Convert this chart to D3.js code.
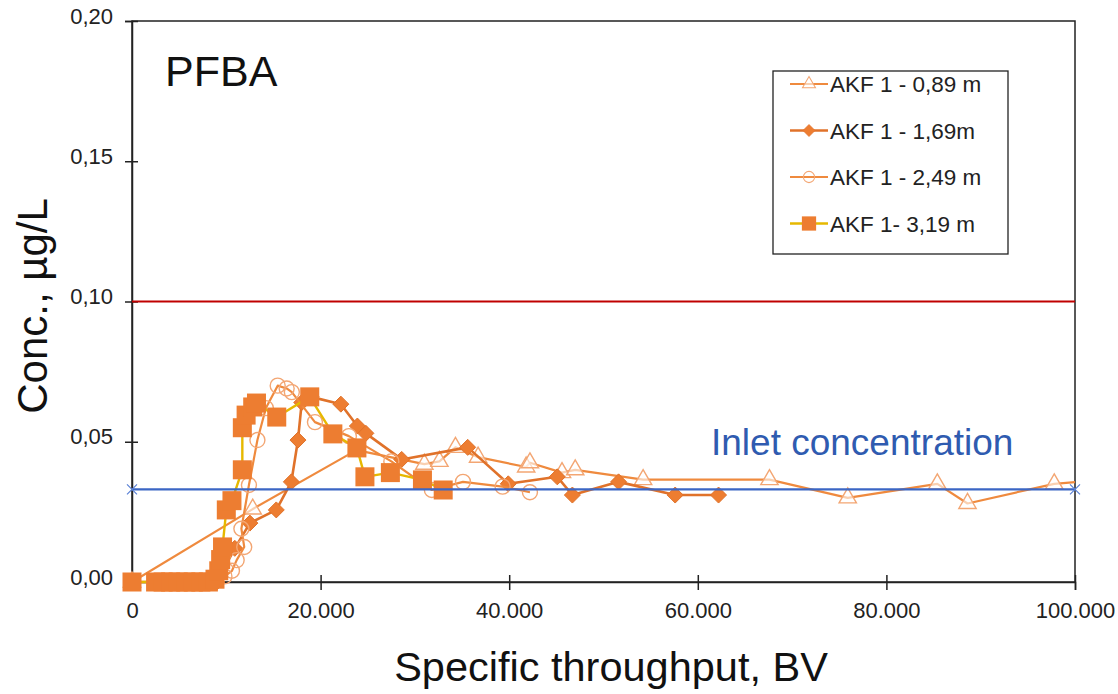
<!DOCTYPE html>
<html>
<head>
<meta charset="utf-8">
<script src="https://cdn.jsdelivr.net/npm/d3@7"></script>
<style>
    body { margin: 0; background: #fff; }
    text { font-family: "Liberation Sans", Arial, sans-serif; }
</style>
</head>
<body>
<div id="chart"></div>
<script>
// series values: [BV, conc µg/L]
const akf089 = [
    [0, 0], [12800, 0.026], [23800, 0.047], [31000, 0.042], [32600, 0.043],
    [34300, 0.048], [36700, 0.0445], [41800, 0.041], [42200, 0.0425],
    [45600, 0.039], [47000, 0.040], [54200, 0.0365], [67600, 0.0365],
    [75900, 0.030], [85400, 0.035], [88600, 0.028], [97800, 0.035], [101500, 0.036]
];
const akf169 = [
    [0, 0], [3000, 0], [6000, 0], [9000, 0], [10900, 0.012], [12500, 0.021],
    [15300, 0.0257], [16900, 0.0357], [17600, 0.0506], [18000, 0.064],
    [19000, 0.066], [22150, 0.0634], [23900, 0.0556], [24800, 0.053],
    [28600, 0.0437], [35600, 0.048], [39900, 0.035], [45100, 0.0375],
    [46700, 0.031], [51600, 0.0357], [57600, 0.031], [62200, 0.031]
];
const akf249 = [
    [0, 0], [4000, 0], [8000, 0], [9800, 0.002], [10600, 0.004], [11100, 0.0078],
    [11900, 0.0125], [11600, 0.019], [12400, 0.0346], [13300, 0.0506],
    [14200, 0.062], [15450, 0.070], [16400, 0.069], [16950, 0.0677],
    [19400, 0.057], [23000, 0.052], [27500, 0.043], [31800, 0.0328],
    [35100, 0.0357], [39300, 0.034], [42200, 0.032]
];
const akf319 = [
    [0, 0], [2500, 0], [3300, 0], [4100, 0], [4900, 0], [5700, 0], [6500, 0],
    [7300, 0], [8100, 0], [8800, 0.001], [9200, 0.004], [9400, 0.008],
    [9600, 0.0125], [10000, 0.0257], [10600, 0.029], [11700, 0.040],
    [11700, 0.055], [12100, 0.0595], [12800, 0.0624], [13200, 0.0638],
    [15350, 0.0588], [18850, 0.066], [21300, 0.0528], [23850, 0.0478],
    [24700, 0.0375], [27400, 0.039], [30800, 0.0364], [33000, 0.0328]
];
const inletConc = 0.033;
const limitConc = 0.10;
const xTicks = [0, 20000, 40000, 60000, 80000, 100000];
const yTicks = [0, 0.05, 0.10, 0.15, 0.20];
const legendLabels = ["AKF 1 - 0,89 m", "AKF 1 - 1,69m", "AKF 1 - 2,49 m", "AKF 1- 3,19 m"];

const width = 1118, height = 694;
const margin = { top: 21, right: 43, bottom: 112, left: 132 };
const innerW = width - margin.left - margin.right;
const innerH = height - margin.top - margin.bottom;

const svg = d3.select("#chart").append("svg")
    .attr("width", width)
    .attr("height", height);

const g = svg.append("g")
    .attr("transform", `translate(${margin.left}, ${margin.top})`);

const x = d3.scaleLinear().domain([0, 100000]).range([0, innerW]);
const y = d3.scaleLinear().domain([0, 0.20]).range([innerH, 0]);

g.append("clipPath").attr("id", "plotclip")
    .append("rect").attr("x", -12).attr("y", -2).attr("width", innerW + 12).attr("height", innerH + 14);

// frame
g.append("rect")
    .attr("width", innerW).attr("height", innerH)
    .attr("fill", "none").attr("stroke", "#222").attr("stroke-width", 1.5);

const fmtX = (d) => d === 0 ? "0" : d3.format(",")(d).replace(/,/g, ".");
const fmtY = (d) => d3.format(".2f")(d).replace(".", ",");

const xAxis = g.append("g")
    .attr("transform", `translate(0, ${innerH})`)
    .call(d3.axisBottom(x).tickValues(xTicks).tickFormat(fmtX).tickSize(8).tickPadding(12));
xAxis.selectAll(".tick line").attr("y1", -7).attr("stroke", "#222").attr("stroke-width", 1.5);

const yAxis = g.append("g")
    .call(d3.axisLeft(y).tickValues(yTicks).tickFormat(fmtY).tickSize(7).tickPadding(12));
yAxis.selectAll(".tick line").attr("x1", -7).attr("x2", 6).attr("stroke", "#222").attr("stroke-width", 1.5);

[xAxis, yAxis].forEach((a) => {
    a.attr("font-size", null);
    a.select(".domain").attr("stroke", "#222").attr("stroke-width", 1.5);
    a.selectAll(".tick text").attr("font-size", 22).attr("fill", "#222");
});
yAxis.selectAll(".tick text").attr("dy", "0.1em");

// limit line
g.append("line")
    .attr("x1", 0).attr("x2", innerW)
    .attr("y1", y(limitConc)).attr("y2", y(limitConc))
    .attr("stroke", "#c00000").attr("stroke-width", 2);

const line = d3.line().x((d) => x(d[0])).y((d) => y(d[1]));
const plot = g.append("g").attr("clip-path", "url(#plotclip)");

const series = [
    { data: akf089, line: "#ef8a3e", width: 2.2, marker: "triangle" },
    { data: akf169, line: "#e0722a", width: 2.6, marker: "diamond" },
    { data: akf249, line: "#ef8a3e", width: 2.2, marker: "circle" },
    { data: akf319, line: "#e6b800", width: 2.4, marker: "square" }
];

function drawMarker(sel, type) {
    if (type === "triangle") {
        sel.append("path").attr("d", d3.symbol(d3.symbolTriangle, 130)())
            .attr("fill", "#fff").attr("fill-opacity", 0.6)
            .attr("stroke", "#f3a673").attr("stroke-width", 1.4);
    } else if (type === "diamond") {
        sel.append("path").attr("d", "M0,-8L8,0L0,8L-8,0Z")
            .attr("fill", "#ed7d31").attr("stroke", "#e0722a").attr("stroke-width", 1);
    } else if (type === "circle") {
        sel.append("circle").attr("r", 7.5)
            .attr("fill", "none")
            .attr("stroke", "#f3a673").attr("stroke-width", 1.4);
    } else {
        sel.append("rect").attr("x", -9.5).attr("y", -9.5).attr("width", 19).attr("height", 19)
            .attr("fill", "#ed7d31");
    }
}

series.forEach((s) => {
    plot.append("path").datum(s.data)
        .attr("d", line)
        .attr("fill", "none")
        .attr("stroke", s.line)
        .attr("stroke-width", s.width)
        .attr("stroke-linejoin", "round");
    plot.selectAll(null).data(s.data).join("g")
        .attr("transform", (d) => `translate(${x(d[0])}, ${y(d[1])})`)
        .each(function () { drawMarker(d3.select(this), s.marker); });
});

// inlet line
g.append("line")
    .attr("x1", 0).attr("x2", innerW)
    .attr("y1", y(inletConc)).attr("y2", y(inletConc))
    .attr("stroke", "#3b66c4").attr("stroke-width", 2.2);
g.selectAll(".inletMark").data([0, 100000]).join("path")
    .attr("class", "inletMark")
    .attr("transform", (d) => `translate(${x(d)}, ${y(inletConc)})`)
    .attr("d", "M-5,-5L5,5M-5,5L5,-5")
    .attr("stroke", "#5b82d6").attr("stroke-width", 1.2);

g.append("text")
    .attr("x", 711 - margin.left).attr("y", 455 - margin.top)
    .style("font-size", "37px")
    .attr("fill", "#2f5bb0")
    .text("Inlet concentration");

g.append("text")
    .attr("x", 33).attr("y", 65)
    .style("font-size", "43px")
    .attr("fill", "#111")
    .text("PFBA");

// legend
const legend = g.append("g").attr("transform", `translate(${773 - margin.left}, ${71 - margin.top})`);
legend.append("rect")
    .attr("width", 235).attr("height", 183)
    .attr("fill", "#fff").attr("stroke", "#222").attr("stroke-width", 1.3);
legendLabels.forEach((label, i) => {
    const row = legend.append("g").attr("transform", `translate(0, ${13 + i * 46.5})`);
    row.append("line").attr("x1", 17).attr("x2", 55)
        .attr("stroke", series[i].line).attr("stroke-width", series[i].width);
    const m = row.append("g").attr("transform", "translate(36, 0) scale(0.75)");
    drawMarker(m, series[i].marker);
    row.append("text").attr("x", 57).attr("dy", "0.36em")
        .style("font-size", "22.5px").attr("fill", "#222")
        .text(label);
});

// axis titles
svg.append("text")
    .attr("x", 611).attr("y", 681)
    .attr("text-anchor", "middle")
    .style("font-size", "41.5px")
    .attr("fill", "#111")
    .text("Specific throughput, BV");

svg.append("text")
    .attr("transform", `translate(47, 306) rotate(-90)`)
    .attr("text-anchor", "middle")
    .style("font-size", "42px")
    .attr("fill", "#111")
    .text("Conc., µg/L");
</script>
</body>
</html>
